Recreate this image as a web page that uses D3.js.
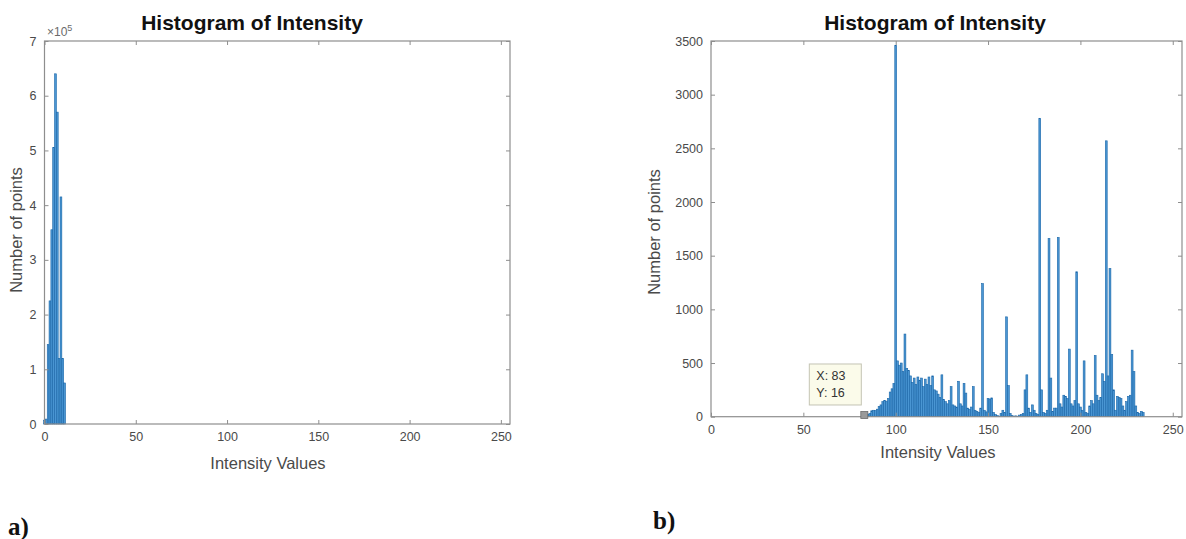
<!DOCTYPE html>
<html><head><meta charset="utf-8">
<script src="https://cdn.jsdelivr.net/npm/d3@7"></script>
<style>body{margin:0;background:#fff}svg{display:block}</style>
</head><body><svg id="c" width="1186" height="539"></svg>
<script>
// ---------- data ----------
const titleText = "Histogram of Intensity";
const xLabelText = "Intensity Values";
const yLabelText = "Number of points";
const xTicks = [0, 50, 100, 150, 200, 250];
const yTicksA = [0, 100000, 200000, 300000, 400000, 500000, 600000, 700000];
const yTicksB = [0, 500, 1000, 1500, 2000, 2500, 3000, 3500];

// panel a) intensity bins and counts
const intensityA = [0, 1, 2, 3, 4, 5, 6, 7, 8, 9, 10, 11];
const countsA = [7000, 9000, 145000, 225000, 355000, 505000, 640000, 570000, 120000, 415000, 120000, 75000];

// panel b) intensity bins and counts
const intensityB = [83,84,85,86,87,88,89,90,91,92,93,94,95,96,97,98,99,
 100,101,102,103,104,105,106,107,108,109,110,111,112,113,114,115,116,117,118,119,
 120,121,122,123,124,125,126,127,128,129,130,131,132,133,134,135,136,137,138,139,
 140,141,142,143,144,145,146,147,148,149,150,151,152,153,154,155,156,157,158,159,
 160,161,162,163,164,165,166,167,168,169,170,171,172,173,174,175,176,177,178,179,
 180,181,182,183,184,185,186,187,188,189,190,191,192,193,194,195,196,197,198,199,
 200,201,202,203,204,205,206,207,208,209,210,211,212,213,214,215,216,217,218,219,
 220,221,222,223,224,225,226,227,228,229,230,231,232,233,234];
const countsB = [16,18,22,30,55,60,58,70,95,110,140,150,145,170,230,260,310,
 3460,520,480,500,420,770,450,430,380,320,360,300,370,340,360,280,350,300,370,290,
 380,250,240,210,180,390,160,140,120,150,280,110,100,90,330,120,100,310,220,80,
 70,90,280,60,50,40,80,1240,60,45,170,165,175,40,20,10,5,30,60,40,
 930,290,30,10,5,8,5,15,20,30,250,390,80,40,110,60,30,20,2780,250,
 40,30,60,1660,360,50,80,80,1670,120,90,200,190,170,630,120,100,150,1350,120,
 90,60,520,40,30,100,150,120,570,200,150,180,400,330,2570,380,1380,580,250,60,
 190,180,170,100,60,140,190,200,620,420,100,40,30,50,40,10];

// data tip
const tipX = 83, tipY = 16;

// ---------- drawing ----------
const svg = d3.select("#c");
const FONT = "'Liberation Sans', Arial, Helvetica, sans-serif";
const barFill = "#4a96d3", barStroke = "#1a66a8";
const axisCol = "#8e8e8e", textCol = "#4a4a4a";

function panel(opt) {
  const g = svg.append("g");
  const x = d3.scaleLinear().domain([0, 255]).range([opt.left, opt.right]);
  const y = d3.scaleLinear().domain([0, opt.ymax]).range([opt.bottom, opt.top]);

  // bars
  g.append("g").selectAll("rect").data(opt.bins.map((b, i) => ({b, c: opt.counts[i]})))
    .join("rect")
    .attr("x", d => x(d.b - 0.5))
    .attr("width", d => x(d.b + 0.5) - x(d.b - 0.5))
    .attr("y", d => y(d.c))
    .attr("height", d => y(0) - y(d.c))
    .attr("fill", barFill)
    .attr("stroke", barStroke)
    .attr("stroke-width", 0.6);

  // box
  g.append("rect").attr("x", opt.left).attr("y", opt.top)
    .attr("width", opt.right - opt.left).attr("height", opt.bottom - opt.top)
    .attr("fill", "none").attr("stroke", axisCol).attr("stroke-width", 1.2);

  const styleAxis = a => {
    a.select(".domain").remove();
    a.selectAll(".tick line").attr("stroke", axisCol).attr("stroke-width", 1);
    a.selectAll(".tick text").attr("fill", textCol).style("font-family", FONT).style("font-size", "12.5px");
  };
  g.append("g").attr("transform", `translate(0,${opt.bottom})`)
    .call(d3.axisBottom(x).tickValues(xTicks).tickSizeInner(-4).tickSizeOuter(0).tickPadding(8))
    .call(styleAxis);
  g.append("g").attr("transform", `translate(0,${opt.top})`)
    .call(d3.axisTop(x).tickValues(xTicks).tickSizeInner(-4).tickSizeOuter(0).tickFormat(""))
    .call(styleAxis);
  g.append("g").attr("transform", `translate(${opt.left},0)`)
    .call(d3.axisLeft(y).tickValues(opt.yTicks).tickSizeInner(-4).tickSizeOuter(0).tickPadding(opt.yPad)
      .tickFormat(opt.yFormat))
    .call(styleAxis);
  g.append("g").attr("transform", `translate(${opt.right},0)`)
    .call(d3.axisRight(y).tickValues(opt.yTicks).tickSizeInner(-4).tickSizeOuter(0).tickFormat(""))
    .call(styleAxis);

  // title
  g.append("text").attr("x", opt.titleX).attr("y", opt.titleY)
    .attr("text-anchor", "middle").attr("fill", "#111")
    .style("font-family", FONT).style("font-weight", "bold").style("font-size", "21px")
    .text(titleText);
  // x label
  g.append("text").attr("x", opt.xLabelX).attr("y", opt.xLabelY)
    .attr("text-anchor", "middle").attr("fill", textCol)
    .style("font-family", FONT).style("font-size", "16.5px").text(xLabelText);
  // y label
  g.append("text").attr("transform", `translate(${opt.yLabelX},${opt.yLabelY}) rotate(-90)`)
    .attr("text-anchor", "middle").attr("fill", textCol)
    .style("font-family", FONT).style("font-size", "16.5px").text(yLabelText);
  // panel letter
  g.append("text").attr("x", opt.letterX).attr("y", opt.letterY)
    .attr("fill", "#111").style("font-family", "'Liberation Serif', 'Times New Roman', serif")
    .style("font-weight", "bold").style("font-size", "25px").text(opt.letter);
  return {g, x, y};
}

const A = panel({
  left: 44.5, right: 510, top: 41, bottom: 424, ymax: 700000,
  bins: intensityA, counts: countsA, yTicks: yTicksA, yPad: 8,
  yFormat: d => d / 100000,
  titleX: 252, titleY: 30, xLabelX: 268, xLabelY: 469, yLabelX: 22, yLabelY: 230,
  letter: "a)", letterX: 8, letterY: 535
});
// exponent label
A.g.append("text").attr("x", 47).attr("y", 36).attr("fill", "#6a6a6a")
  .style("font-family", FONT).style("font-size", "12px")
  .text("\u00d710").append("tspan").attr("dy", -5).style("font-size", "9px").text("5");

const B = panel({
  left: 711, right: 1182, top: 41, bottom: 416.7, ymax: 3500,
  bins: intensityB, counts: countsB, yTicks: yTicksB, yPad: 8,
  yFormat: d => d,
  titleX: 935, titleY: 30, xLabelX: 938, xLabelY: 458, yLabelX: 660, yLabelY: 232,
  letter: "b)", letterX: 653, letterY: 529
});

// data tip marker and box
const mx = B.x(tipX), my = B.y(tipY);
B.g.append("rect").attr("x", mx - 3.5).attr("y", my - 3.5).attr("width", 7).attr("height", 7)
  .attr("fill", "#9a9a9a").attr("stroke", "#6b6b6b").attr("stroke-width", 0.8);
const tip = B.g.append("g").attr("transform", `translate(${mx - 55},${my - 51})`);
tip.append("rect").attr("width", 52).attr("height", 41)
  .attr("fill", "#fbfbea").attr("stroke", "#c4c4b4").attr("stroke-width", 1);
tip.append("text").attr("x", 7).attr("y", 16).attr("fill", "#333")
  .style("font-family", FONT).style("font-size", "12.5px").text("X: " + tipX);
tip.append("text").attr("x", 7).attr("y", 33).attr("fill", "#333")
  .style("font-family", FONT).style("font-size", "12.5px").text("Y: " + tipY);
</script>
</body></html>
